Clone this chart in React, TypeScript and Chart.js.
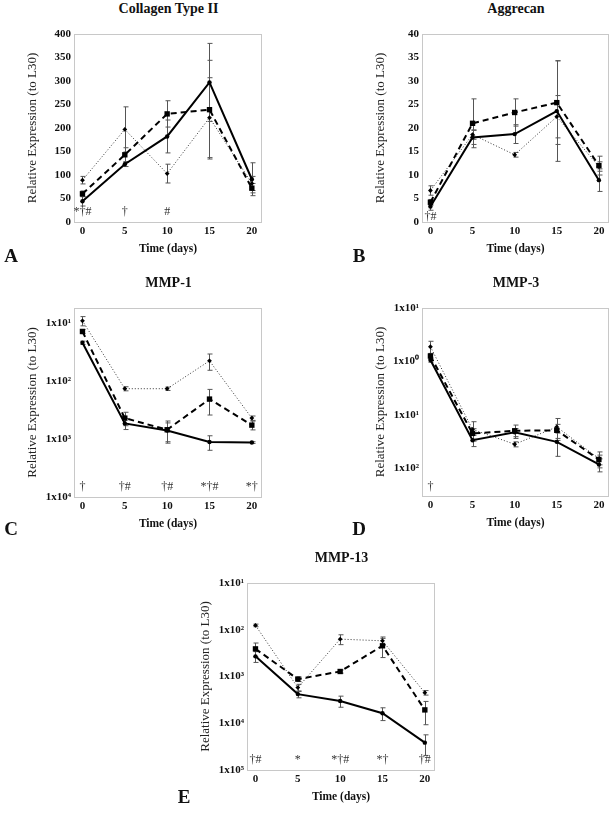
import React, { useEffect, useRef } from 'react';
import { Chart, registerables } from 'chart.js';

Chart.register(...registerables);

const FONT = "'Liberation Serif', 'Times New Roman', serif";

// ---------- data ----------
const DAYS = [0, 5, 10, 15, 20];
const X_TICKS = [0, 5, 10, 15, 20];

// A: Collagen Type II
const COL2_TICKS = [0, 50, 100, 150, 200, 250, 300, 350, 400];
const COL2_SOLID = [44, 123, 182, 297, 91];
const COL2_SOLID_ERR = [10, 5, 35, 83, 35];
const COL2_DASHED = [60, 143, 230, 239, 72];
const COL2_DASHED_ERR = [6, 15, 28, 105, 10];
const COL2_DOTTED = [89, 197, 103, 222, 82];
const COL2_DOTTED_ERR = [8, 48, 20, 85, 15];
const COL2_SIG = ['*†#', '†', '#', '', ''];

// B: Aggrecan
const AGG_TICKS = [0, 5, 10, 15, 20, 25, 30, 35, 40];
const AGG_SOLID = [3.3, 18.0, 18.7, 23.6, 8.9];
const AGG_SOLID_ERR = [0.8, 1.5, 2, 10.7, 2.4];
const AGG_DASHED = [4.2, 21, 23.3, 25.4, 12];
const AGG_DASHED_ERR = [0.6, 5.2, 2.9, 8.9, 2];
const AGG_DOTTED = [6.7, 18.6, 14.3, 22.4, 11.8];
const AGG_DOTTED_ERR = [1, 1, 0.5, 4.5, 1];
const AGG_SIG = ['†#', '', '', '', ''];

// C: MMP-1
const MMP1_TICKS = [1e-1, 1e-2, 1e-3, 1e-4];
const MMP1_SOLID = [0.046, 0.00186, 0.0014, 0.00089, 0.00087];
const MMP1_SOLID_ERR = [0.003, 0.0004, 0.0005, 0.00025, 0.00003];
const MMP1_DASHED = [0.072, 0.0023, 0.00145, 0.0049, 0.00174];
const MMP1_DASHED_ERR = [0.006, 0.0006, 0.0006, 0.0023, 0.0003];
const MMP1_DOTTED = [0.11, 0.0074, 0.0074, 0.0224, 0.0023];
const MMP1_DOTTED_ERR = [0.02, 0.0006, 0.0005, 0.007, 0.0002];
const MMP1_SIG = ['†', '†#', '†#', '*†#', '*†'];

// D: MMP-3
const MMP3_TICKS = [10, 1, 0.1, 0.01];
const MMP3_SOLID = [1.06, 0.0333, 0.0468, 0.031, 0.0117];
const MMP3_SOLID_ERR = [0.1, 0.008, 0.008, 0.0144, 0.0032];
const MMP3_DASHED = [1.26, 0.0447, 0.05, 0.051, 0.0145];
const MMP3_DASHED_ERR = [0.15, 0.01, 0.014, 0.015, 0.003];
const MMP3_DOTTED = [1.88, 0.053, 0.028, 0.059, 0.0151];
const MMP3_DOTTED_ERR = [0.5, 0.021, 0.003, 0.026, 0.005];
const MMP3_SIG = ['†', '', '', '', ''];

// E: MMP-13
const MMP13_TICKS = [1e-1, 1e-2, 1e-3, 1e-4, 1e-5];
const MMP13_SOLID = [0.0027, 0.00042, 0.0003, 0.000164, 0.0000385];
const MMP13_SOLID_ERR = [0.0007, 0.00007, 0.00008, 0.00005, 0.000018];
const MMP13_DASHED = [0.0039, 0.00088, 0.00128, 0.00454, 0.000193];
const MMP13_DASHED_ERR = [0.0013, 0.0001, 0.0001, 0.002, 0.0001];
const MMP13_DOTTED = [0.0124, 0.00058, 0.0063, 0.0058, 0.00045];
const MMP13_DOTTED_ERR = [0.0008, 0.0001, 0.0015, 0.0012, 0.00005];
const MMP13_SIG = ['†#', '*', '*†#', '*†', '†#'];

// ---------- layout ----------
const Y_AXIS_W = 74;
const PAD_TOP = 10;
const PAD_RIGHT = 3;
const X_AXIS_H = 34;

interface PanelCfg {
  title: string;
  letter: string;
  plot: [number, number, number, number];
  titleY: number;
  letterPos: [number, number];
  log: boolean;
  yMin: number;
  yMax: number;
  yTicks: number[];
  solid: number[]; solidErr: number[];
  dashed: number[]; dashedErr: number[];
  dotted: number[]; dottedErr: number[];
  sig: string[];
  sigOffset: number;
}

const PANELS: PanelCfg[] = [
  { title: 'Collagen Type II', letter: 'A', plot: [74, 34, 263, 222], titleY: 9, letterPos: [11, 255],
    log: false, yMin: 0, yMax: 400, yTicks: COL2_TICKS,
    solid: COL2_SOLID, solidErr: COL2_SOLID_ERR, dashed: COL2_DASHED, dashedErr: COL2_DASHED_ERR,
    dotted: COL2_DOTTED, dottedErr: COL2_DOTTED_ERR, sig: COL2_SIG, sigOffset: 10 },
  { title: 'Aggrecan', letter: 'B', plot: [422, 34, 610, 222], titleY: 9, letterPos: [359, 255],
    log: false, yMin: 0, yMax: 40, yTicks: AGG_TICKS,
    solid: AGG_SOLID, solidErr: AGG_SOLID_ERR, dashed: AGG_DASHED, dashedErr: AGG_DASHED_ERR,
    dotted: AGG_DOTTED, dottedErr: AGG_DOTTED_ERR, sig: AGG_SIG, sigOffset: 5 },
  { title: 'MMP-1', letter: 'C', plot: [74, 308, 263, 497], titleY: 283, letterPos: [11, 528],
    log: true, yMin: 1e-4, yMax: 0.183, yTicks: MMP1_TICKS,
    solid: MMP1_SOLID, solidErr: MMP1_SOLID_ERR, dashed: MMP1_DASHED, dashedErr: MMP1_DASHED_ERR,
    dotted: MMP1_DOTTED, dottedErr: MMP1_DOTTED_ERR, sig: MMP1_SIG, sigOffset: 10 },
  { title: 'MMP-3', letter: 'D', plot: [422, 308, 610, 496], titleY: 283, letterPos: [359, 528],
    log: true, yMin: 0.003, yMax: 10, yTicks: MMP3_TICKS,
    solid: MMP3_SOLID, solidErr: MMP3_SOLID_ERR, dashed: MMP3_DASHED, dashedErr: MMP3_DASHED_ERR,
    dotted: MMP3_DOTTED, dottedErr: MMP3_DOTTED_ERR, sig: MMP3_SIG, sigOffset: 9 },
  { title: 'MMP-13', letter: 'E', plot: [247, 583, 436, 770], titleY: 558, letterPos: [184, 796],
    log: true, yMin: 1e-5, yMax: 0.1, yTicks: MMP13_TICKS,
    solid: MMP13_SOLID, solidErr: MMP13_SOLID_ERR, dashed: MMP13_DASHED, dashedErr: MMP13_DASHED_ERR,
    dotted: MMP13_DOTTED, dottedErr: MMP13_DOTTED_ERR, sig: MMP13_SIG, sigOffset: 10 },
];

const SUP = '⁰¹²³⁴⁵⁶⁷⁸⁹';
function sup(n: number) {
  return String(n).split('').map((d) => SUP[+d]).join('');
}

function pts(vals: number[]) {
  return DAYS.map((d, i) => ({ x: d, y: vals[i] }));
}

function PanelChart({ p }: { p: PanelCfg }) {
  const ref = useRef<HTMLCanvasElement>(null);
  const [l, t, r, b] = p.plot;
  const cl = l - Y_AXIS_W;
  const ct = t - PAD_TOP;
  const cw = r + PAD_RIGHT - cl;
  const ch = b + X_AXIS_H - ct;

  useEffect(() => {
    const errs = [p.solidErr, p.dashedErr, p.dottedErr];
    const overlay = {
      id: 'overlay',
      beforeDatasetsDraw(chart: any) {
        const { ctx, chartArea: ca, scales } = chart;
        const xs = scales.x, ys = scales.y;
        ctx.save();
        ctx.strokeStyle = '#555';
        ctx.lineWidth = 1;
        chart.data.datasets.forEach((ds: any, di: number) => {
          ds.data.forEach((pt: any, i: number) => {
            const e = errs[di][i];
            if (!e) return;
            const x = Math.round(xs.getPixelForValue(pt.x)) + 0.5;
            const hiV = pt.y + e;
            const loV = pt.y - e;
            let yHi = ys.getPixelForValue(hiV);
            let yLo = loV > 0 || !p.log ? ys.getPixelForValue(loV) : ca.bottom;
            yHi = Math.max(ca.top, yHi);
            yLo = Math.min(ca.bottom, yLo);
            ctx.beginPath();
            ctx.moveTo(x, yHi);
            ctx.lineTo(x, yLo);
            ctx.moveTo(x - 2, yHi);
            ctx.lineTo(x + 3, yHi);
            if (yLo < ca.bottom) {
              ctx.moveTo(x - 2, yLo);
              ctx.lineTo(x + 3, yLo);
            }
            ctx.stroke();
          });
        });
        ctx.restore();
      },
      afterDraw(chart: any) {
        const { ctx, chartArea: ca, scales } = chart;
        ctx.save();
        ctx.strokeStyle = '#c8c8c8';
        ctx.lineWidth = 1;
        ctx.strokeRect(Math.round(ca.left) + 0.5, Math.round(ca.top) + 0.5,
          Math.round(ca.right - ca.left) - 1, Math.round(ca.bottom - ca.top));
        ctx.fillStyle = '#333';
        ctx.font = `12px ${FONT}`;
        ctx.textAlign = 'center';
        ctx.textBaseline = 'middle';
        p.sig.forEach((s, i) => {
          if (!s) return;
          ctx.fillText(s, scales.x.getPixelForValue(DAYS[i]), ca.bottom - p.sigOffset);
        });
        ctx.restore();
      },
    };

    const chart = new Chart(ref.current as HTMLCanvasElement, {
      type: 'line',
      data: {
        datasets: [
          { data: pts(p.solid), borderColor: '#000', backgroundColor: '#000', borderWidth: 2,
            pointStyle: 'circle', pointRadius: 2.2, pointBorderWidth: 0, pointBackgroundColor: '#000' },
          { data: pts(p.dashed), borderColor: '#000', backgroundColor: '#000', borderWidth: 2,
            borderDash: [6, 4], pointStyle: 'rect', pointRadius: 3.8, pointBorderWidth: 0,
            pointBackgroundColor: '#000' },
          { data: pts(p.dotted), borderColor: '#333', backgroundColor: '#000', borderWidth: 1,
            borderDash: [1, 2], pointStyle: 'rectRot', pointRadius: 2.4, pointBorderWidth: 0,
            pointBackgroundColor: '#000' },
        ],
      } as any,
      options: {
        animation: false,
        responsive: false,
        devicePixelRatio: 1,
        layout: { padding: { top: PAD_TOP, right: PAD_RIGHT, left: 0, bottom: 0 } },
        plugins: { legend: { display: false }, tooltip: { enabled: false }, title: { display: false } },
        scales: {
          x: {
            type: 'linear',
            min: -1,
            max: 21.2,
            grid: { display: false, drawTicks: false },
            border: { display: false },
            afterBuildTicks: (s: any) => { s.ticks = X_TICKS.map((v) => ({ value: v })); },
            afterFit: (s: any) => { s.height = X_AXIS_H; },
            ticks: { color: '#111', padding: 3, font: { family: FONT, size: 11, weight: 'bold' } },
            title: { display: true, text: 'Time (days)', color: '#111', padding: { top: 0, bottom: 0 },
              font: { family: FONT, size: 11.5, weight: 'bold' } },
          },
          y: {
            type: p.log ? 'logarithmic' : 'linear',
            min: p.yMin,
            max: p.yMax,
            grid: { display: false, drawTicks: false },
            border: { display: false },
            afterBuildTicks: (s: any) => { s.ticks = p.yTicks.map((v) => ({ value: v })); },
            afterFit: (s: any) => { s.width = Y_AXIS_W; },
            ticks: {
              color: '#111', padding: 3, font: { family: FONT, size: 11, weight: 'bold' },
              callback: (v: any) => p.log ? '1x10' + sup(Math.abs(Math.round(Math.log10(Number(v))))) : String(v),
            },
            title: { display: true, text: 'Relative Expression (to L30)', color: '#222',
              padding: { top: 25, bottom: 0 }, font: { family: FONT, size: 13, weight: 'normal' } },
          },
        },
      } as any,
      plugins: [overlay],
    });
    return () => chart.destroy();
  }, []);

  const titleW = 200;
  return (
    <>
      <canvas ref={ref} width={cw} height={ch}
        style={{ position: 'absolute', left: cl, top: ct, width: cw, height: ch }} />
      <div style={{ position: 'absolute', left: (l + r) / 2 - titleW / 2, width: titleW, top: p.titleY - 7,
        textAlign: 'center', fontFamily: FONT, fontWeight: 'bold', fontSize: 14, lineHeight: '14px', color: '#111' }}>
        {p.title}
      </div>
      <div style={{ position: 'absolute', left: p.letterPos[0] - 15, width: 30, top: p.letterPos[1] - 9.5,
        textAlign: 'center', fontFamily: FONT, fontWeight: 'bold', fontSize: 19, lineHeight: '19px', color: '#111' }}>
        {p.letter}
      </div>
    </>
  );
}

export default function App() {
  return (
    <div style={{ position: 'absolute', left: 0, top: 0, width: 614, height: 813, overflow: 'hidden', background: '#fff' }}>
      {PANELS.map((p) => <PanelChart key={p.letter} p={p} />)}
    </div>
  );
}
